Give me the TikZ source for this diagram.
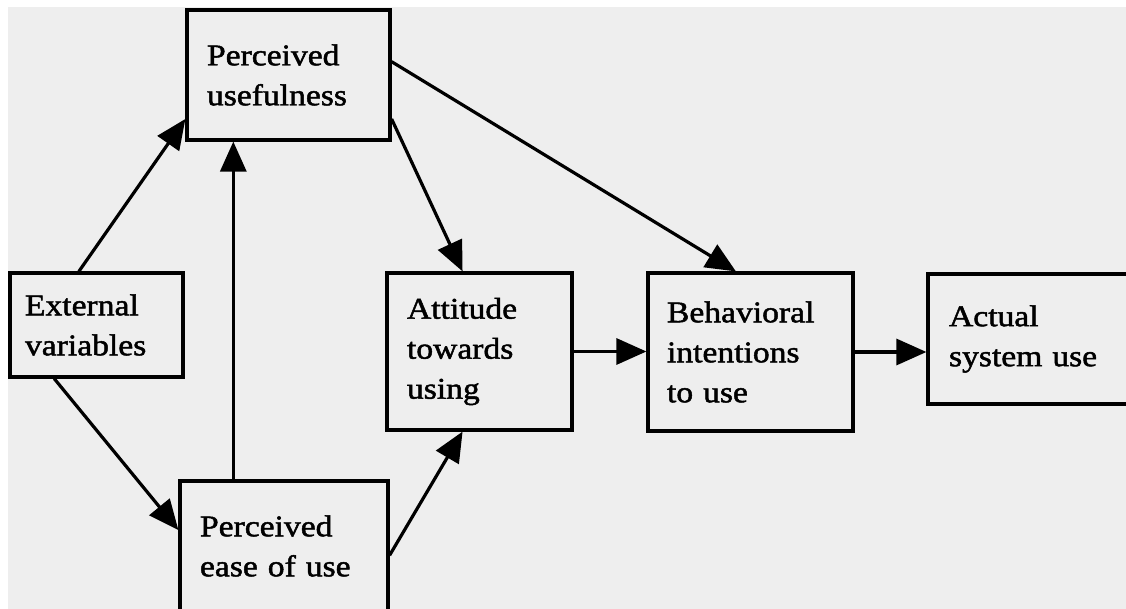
\documentclass[tikz,border=0pt]{standalone}
\usepackage{fontspec}
\setmainfont[FakeStretch=1.12, FakeBold=1.6]{Liberation Serif}
\usetikzlibrary{arrows.meta, positioning, calc}
\definecolor{paper}{HTML}{EEEEEE}

\begin{document}
\begin{tikzpicture}[
    x=1pt, y=-1pt,
    box/.style={rectangle, draw=black, line width=3.2pt, inner ysep=0pt, align=left, font=\fontsize{30}{40}\selectfont},
    arrow/.style={-{Triangle[length=30pt,width=26pt]}, line width=3.2pt}
]
\clip (0,0) rectangle (1126,609);
\fill[white] (0,0) rectangle (1126,609);
\fill[paper] (8,7) rectangle (1126,609);

% Boxes
\node[box, minimum width=203pt, minimum height=130pt, inner xsep=20pt, text width=163pt] (pu) at (288.5,75) {Perceived\\usefulness};
\node[box, minimum width=173pt, minimum height=104pt, inner xsep=15pt, text width=143pt] (ev) at (96.5,325) {External\\variables};
\node[box, minimum width=208pt, minimum height=130pt, inner xsep=20pt, text width=168pt] (peou) at (284,546) {Perceived\\ease of use};
\node[box, minimum width=185pt, minimum height=157pt, inner xsep=20pt, text width=145pt] (att) at (479.5,351.5) {Attitude\\towards\\using};
\node[box, minimum width=205pt, minimum height=158pt, inner xsep=19pt, text width=167pt] (bi) at (750.5,352) {Behavioral\\intentions\\to use};
\node[box, minimum width=220pt, minimum height=130pt, inner xsep=21pt, text width=178pt] (asu) at (1038,339) {Actual\\system use};

% Arrows
\draw[arrow] ($(ev.north west)!0.4!(ev.north east)$) -- ($(pu.north west)!0.83!(pu.south west)$);
\draw[arrow] ($(ev.south west)!0.26!(ev.south east)$) -- ($(peou.north west)!0.38!(peou.south west)$);
\coordinate (up) at ($(peou.north west)!0.26!(peou.north east)$);
\draw[arrow] (up) -- (up |- pu.south);
\draw[arrow] ($(pu.north east)!0.83!(pu.south east)$) -- ($(att.north west)!0.41!(att.north east)$);
\draw[arrow] ($(pu.north east)!0.4!(pu.south east)$) -- ($(bi.north west)!0.43!(bi.north east)$);
\draw[arrow] ($(peou.north east)!0.57!(peou.south east)$) -- ($(att.south west)!0.41!(att.south east)$);
\draw[arrow] (att.east) -- (att.east -| bi.west);
\draw[arrow] (bi.east) -- (bi.east -| asu.west);

\end{tikzpicture}
\end{document}
